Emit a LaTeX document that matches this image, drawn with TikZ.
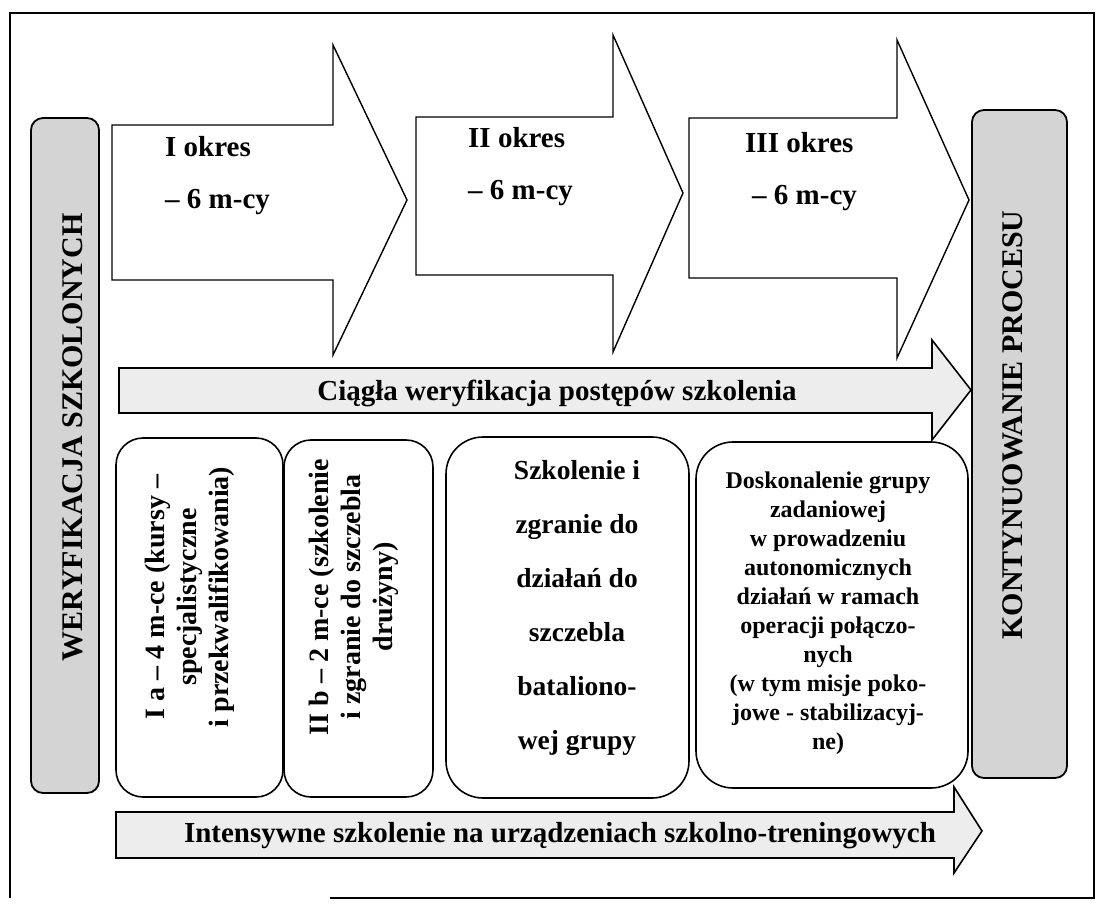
\documentclass[tikz,border=0pt]{standalone}
\usepackage{fontspec}
\setmainfont{Liberation Serif}

\tikzset{
  bigarrow/.style={draw, line width=1.4pt, fill=white, line join=miter},
  greybar/.style={draw, line width=1.8pt, fill=black!17, rounded corners=12pt},
  flowarrow/.style={draw, line width=1.6pt, fill=black!7, line join=miter},
  stagebox/.style={draw, line width=1.6pt, fill=white},
  lbl/.style={inner sep=0pt, font=\bfseries\fontsize{29}{32}\selectfont},
}

\begin{document}
\begin{tikzpicture}[x=1pt, y=-1pt]
    \useasboundingbox (0,0) rectangle (1100,904);
    % frame, open at the bottom left
    \draw[line width=2.8pt] (330,898) -- (1094,898) -- (1094,13) -- (10,13) -- (10,898);
    % side bars
    \draw[greybar] (31,118) rectangle (99,793);
    \draw[greybar] (972,110) rectangle (1067,778);
    \node[lbl, rotate=90, font=\bfseries\fontsize{30}{32}\selectfont] (verif) at (72.5,437.5) {WERYFIKACJA SZKOLONYCH};
    \node[lbl, rotate=90, font=\bfseries\fontsize{30}{32}\selectfont] (cont) at (1012.5,425) {KONTYNUOWANIE PROCESU};
    % three periods
    \draw[bigarrow] (112,125) -- (333,125) -- (333,45) -- (407,200) -- (333,355) -- (333,280) -- (112,280) -- cycle;
    \draw[bigarrow] (416,117) -- (613,117) -- (613,35) -- (683,193) -- (613,352) -- (613,275) -- (416,275) -- cycle;
    \draw[bigarrow] (689,118) -- (897,118) -- (897,40) -- (969,200) -- (897,358) -- (897,278) -- (689,278) -- cycle;
    \node[lbl, anchor=base west] (p1) at (165,157) {I okres};
    \node[lbl, anchor=base west] (p1len) at (165,208) {– 6 m-cy};
    \node[lbl, anchor=base west] (p2) at (468,148) {II okres};
    \node[lbl, anchor=base west] (p2len) at (468,200) {– 6 m-cy};
    \node[lbl, anchor=base west] (p3) at (745,153) {III okres};
    \node[lbl, anchor=base west] (p3len) at (752,205) {– 6 m-cy};
    % continuous checks
    \draw[flowarrow] (119,368) -- (932,368) -- (932,340) -- (971,390) -- (932,440) -- (932,413) -- (119,413) -- cycle;
    \node[lbl, anchor=base] (check) at (557,400) {Ciągła weryfikacja postępów szkolenia};
    % stages
    \draw[stagebox, rounded corners=27pt] (116,438) rectangle (283,797);
    \draw[stagebox, rounded corners=27pt] (284,440) rectangle (433,797);
    \draw[stagebox, rounded corners=37pt] (446,437) rectangle (689,798);
    \draw[stagebox, rounded corners=37pt] (696,442) rectangle (968,788);
    \node[lbl, rotate=90, align=center, font=\bfseries\fontsize{28}{32}\selectfont] (stia) at (190,597)
        {I a – 4 m-ce (kursy –\\ specjalistyczne\\ i przekwalifikowania)};
    \node[lbl, rotate=90, align=center, font=\bfseries\fontsize{28}{32}\selectfont] (stiib) at (353.5,597)
        {II b – 2 m-ce (szkolenie\\ i zgranie do szczebla\\ drużyny)};
    \node[lbl, align=center, font=\bfseries\fontsize{27.5}{54}\selectfont] (stbat) at (577,608)
        {Szkolenie i\\ zgranie do\\ działań do\\ szczebla\\ bataliono-\\ wej grupy};
    \node[lbl, align=center, font=\bfseries\fontsize{24}{29}\selectfont] (sttask) at (828,613)
        {Doskonalenie grupy\\ zadaniowej\\ w prowadzeniu\\ autonomicznych\\ działań w ramach\\ operacji połączo-\\ nych\\ (w tym misje poko-\\ jowe - stabilizacyj-\\ ne)};
    % simulators
    \draw[flowarrow] (116,812) -- (954,812) -- (954,787) -- (982,831) -- (954,873) -- (954,858) -- (116,858) -- cycle;
    \node[lbl, anchor=base] (sim) at (560,842) {Intensywne szkolenie na urządzeniach szkolno-treningowych};
\end{tikzpicture}
\end{document}
